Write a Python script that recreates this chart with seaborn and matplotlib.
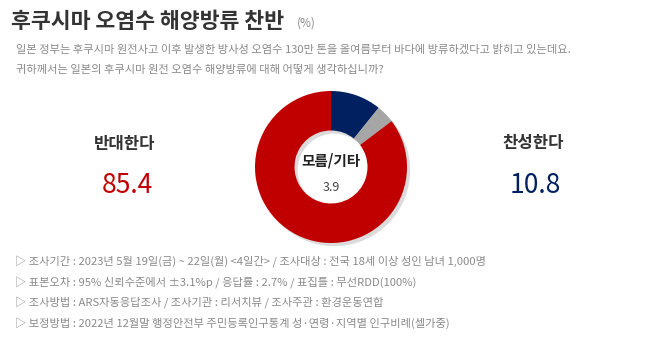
import matplotlib
matplotlib.use("Agg")
import matplotlib.pyplot as plt
import seaborn as sns

# ---- data ----
categories = ["찬성한다", "모름/기타", "반대한다"]
values = [10.8, 3.9, 85.4]
slice_colors = ["#002060", "#A6A6A6", "#C00000"]

title = "후쿠시마 오염수 해양방류 찬반"
unit = "(%)"
question_lines = [
    "일본 정부는 후쿠시마 원전사고 이후 발생한 방사성 오염수 130만 톤을 올여름부터 바다에 방류하겠다고 밝히고 있는데요.",
    "귀하께서는 일본의 후쿠시마 원전 오염수 해양방류에 대해 어떻게 생각하십니까?",
]
notes = [
    "▷ 조사기간 : 2023년 5월 19일(금) ~ 22일(월) <4일간> / 조사대상 : 전국 18세 이상 성인 남녀 1,000명",
    "▷ 표본오차 : 95% 신뢰수준에서 ±3.1%p / 응답률 : 2.7% / 표집틀 : 무선RDD(100%)",
    "▷ 조사방법 : ARS자동응답조사 / 조사기관 : 리서치뷰 / 조사주관 : 환경운동연합",
    "▷ 보정방법 : 2022년 12월말 행정안전부 주민등록인구통계 성·연령·지역별 인구비례(셀가중)",
]

sns.set_theme(style="white")
plt.rcParams["font.family"] = ["Noto Sans CJK KR", "DejaVu Sans"]

W, H = 658, 345
fig = plt.figure(figsize=(W / 100, H / 100), dpi=100)
fig.patch.set_facecolor("white")

def fx(px):
    return px / W

def fy(py):
    return 1 - py / H

# donut
cx, cy, r = 331, 167, 76
ax = fig.add_axes([fx(cx - r), fy(cy + r), 2 * r / W, 2 * r / H])
palette = sns.color_palette(slice_colors)
ax.pie(values, colors=palette, startangle=90, counterclock=False,
       wedgeprops=dict(width=0.52, linewidth=0),
       shadow=dict(ox=0.03, oy=-0.03, facecolor="#9a9a9a", edgecolor="none", alpha=0.35))
ax.set_xlim(-1, 1)
ax.set_ylim(-1, 1)
ax.set_aspect("equal")
ax.axis("off")

# title
fig.text(fx(11), fy(21), title, fontsize=15.6, fontweight="bold", color="#333333",
         ha="left", va="center")
fig.text(fx(297), fy(23), unit, fontsize=8.5, color="#888888", ha="left", va="center")

# question
for i, line in enumerate(question_lines):
    fig.text(fx(16), fy(50 + 20 * i), line, fontsize=8.1, color="#8a8a8a",
             ha="left", va="center")

# side labels
fig.text(fx(125), fy(144), categories[2], fontsize=12, fontweight="bold",
         color="#333333", ha="center", va="center")
fig.text(fx(127), fy(185), f"{values[2]:.1f}", fontsize=19, color=slice_colors[2],
         ha="center", va="center")
fig.text(fx(533), fy(143), categories[0], fontsize=12, fontweight="bold",
         color="#333333", ha="center", va="center")
fig.text(fx(535), fy(185), f"{values[0]:.1f}", fontsize=19, color=slice_colors[0],
         ha="center", va="center")

# center label
fig.text(fx(331), fy(160), categories[1], fontsize=10.5, fontweight="bold",
         color="#222222", ha="center", va="center")
fig.text(fx(331), fy(187), f"{values[1]:.1f}", fontsize=9, color="#444444",
         ha="center", va="center")

# notes
for i, line in enumerate(notes):
    fig.text(fx(15), fy(262 + 20.5 * i), line, fontsize=8.1, color="#8a8a8a",
             ha="left", va="center",
             family=["Noto Sans CJK KR", "DejaVu Sans"])

fig.savefig("out.png", dpi=100)
